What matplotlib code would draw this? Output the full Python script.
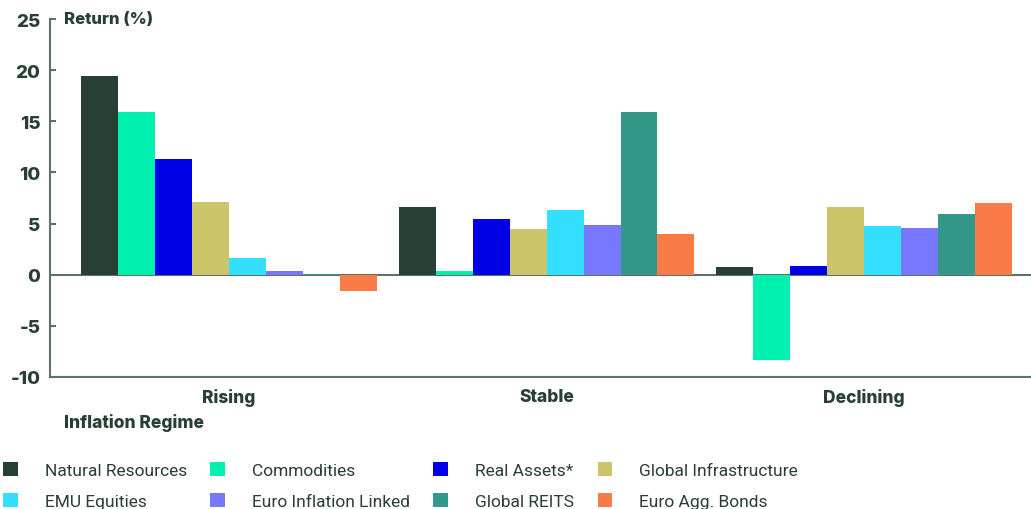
import matplotlib
matplotlib.use("Agg")
import matplotlib.pyplot as plt
import numpy as np

categories = ["Rising", "Stable", "Declining"]
series_names = ["Natural Resources", "Commodities", "Real Assets*", "Global Infrastructure",
                "EMU Equities", "Euro Inflation Linked", "Global REITS", "Euro Agg. Bonds"]
natural_resources = [19.4, 6.6, 0.8]
commodities = [15.9, 0.4, -8.3]
real_assets = [11.3, 5.4, 0.9]
global_infrastructure = [7.1, 4.5, 6.6]
emu_equities = [1.6, 6.3, 4.75]
euro_inflation_linked = [0.4, 4.9, 4.6]
global_reits = [0.1, 15.9, 5.9]
euro_agg_bonds = [-1.6, 4.0, 7.0]
yticks = [-10, -5, 0, 5, 10, 15, 20, 25]

series_values = [natural_resources, commodities, real_assets, global_infrastructure,
                 emu_equities, euro_inflation_linked, global_reits, euro_agg_bonds]
colors = ["#283F33", "#00F0B0", "#0000E6", "#CCC46A", "#33E0FF", "#7878FF", "#33988A", "#FA7B48"]

text_color = "#283F33"
axis_color = "#5F7268"
bold_font = ["Inter", "DejaVu Sans"]
legend_font = ["Roboto", "DejaVu Sans"]

fig = plt.figure(figsize=(10.31, 5.10), dpi=100)
ax = fig.add_axes([50/1031, 1-378/510, 1-50/1031, (378-20)/510])

x = np.arange(len(categories))
w = 0.1165
n = len(series_values)
for i, (name, vals, c) in enumerate(zip(series_names, series_values, colors)):
    offs = (i - (n-1)/2) * w
    ax.bar(x + offs, vals, width=w, color=c, label=name, linewidth=0, zorder=2)

ax.axhline(0, color=axis_color, lw=1.5, zorder=1)
ax.set_ylim(-10, 25)
ax.set_xlim(-0.564, 2.526)
ax.set_yticks(yticks)
ax.set_yticklabels([str(t) for t in yticks], fontfamily=bold_font, fontweight=800,
                   fontsize=13.5, color=text_color)
ax.set_xticks(x)
ax.set_xticklabels(categories, fontfamily=bold_font, fontweight=800, fontsize=12.5,
                   color=text_color)
ax.tick_params(axis="x", length=0, pad=8)
ax.tick_params(axis="y", direction="in", length=4, width=1.5, color=axis_color, pad=7)
for s in ["top", "right"]:
    ax.spines[s].set_visible(False)
for s in ["left", "bottom"]:
    ax.spines[s].set_color(axis_color)
    ax.spines[s].set_linewidth(1.5)

fig.text(64/1031, 1-20/510, "Return (%)", fontfamily=bold_font, fontweight=800,
         fontsize=12, color=text_color, va="center", ha="left")
fig.text(64/1031, 1-423/510, "Inflation Regime", fontfamily=bold_font, fontweight=800,
         fontsize=12.5, color=text_color, va="center", ha="left")

handles, labels = ax.get_legend_handles_labels()
order = [0, 4, 1, 5, 2, 6, 3, 7]
leg = fig.legend([handles[k] for k in order], [labels[k] for k in order], ncol=4,
                 loc="upper left", bbox_to_anchor=(3/1031, 1-463/510),
                 frameon=False, prop={"family": legend_font, "size": 12.5},
                 handlelength=0.85, handleheight=0.85, handletextpad=1.55, columnspacing=1.35,
                 labelspacing=0.88, borderaxespad=0, borderpad=0)
for t in leg.get_texts():
    t.set_color(text_color)

fig.savefig("out.png", dpi=100)
